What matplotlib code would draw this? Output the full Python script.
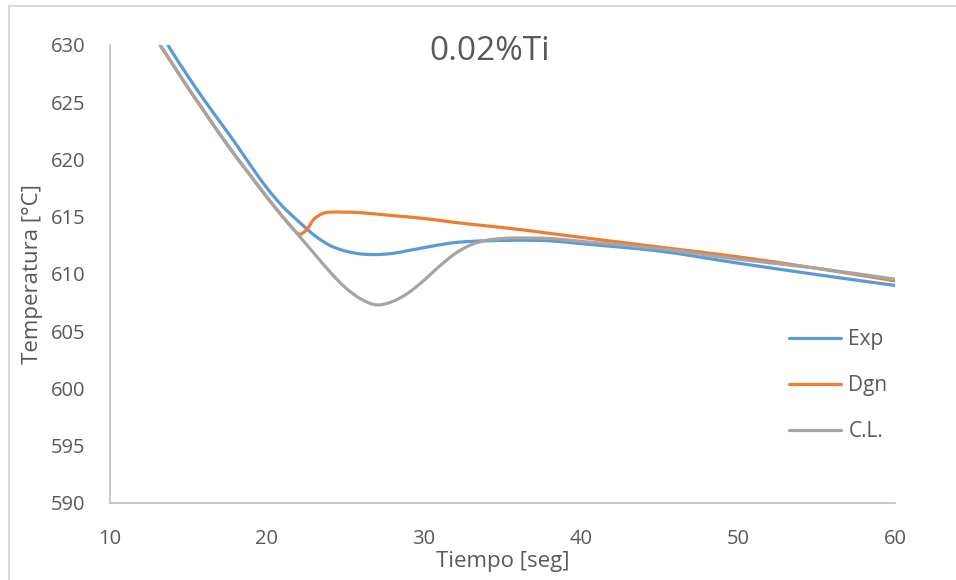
import matplotlib
matplotlib.use("Agg")
import numpy as np
import matplotlib.pyplot as plt
from matplotlib.lines import Line2D
from matplotlib.path import Path
from matplotlib.patches import PathPatch

plt.rcParams['font.family'] = ['Open Sans', 'DejaVu Sans']

# Cooling curves, time in seconds, temperature in °C
t_exp = [13.7, 14, 15, 16, 17, 18, 19, 20, 21, 22, 23, 24, 25, 26, 27, 28, 29, 30,
         31, 32, 33, 34, 36, 38, 40, 45, 50, 55, 60]
temp_exp = [630.0, 629.3, 627.2, 625.2, 623.3, 621.4, 619.4, 617.5, 615.9, 614.6, 613.4,
            612.5, 612.0, 611.75, 611.7, 611.8, 612.05, 612.3, 612.55, 612.75, 612.85,
            612.9, 612.95, 612.9, 612.65, 612.0, 610.95, 609.95, 609.0]

t_dgn = [13, 14, 15, 16, 17, 18, 19, 20, 21, 21.5, 22.0, 22.3, 22.6, 23.0, 23.5, 24, 25,
         26, 28, 30, 32, 34, 36, 38, 40, 45, 50, 55, 60]
temp_dgn = [630.4, 628.3, 626.2, 624.2, 622.2, 620.3, 618.5, 616.7, 615.0, 614.2, 613.5,
            613.6, 614.0, 614.8, 615.25, 615.4, 615.4, 615.35, 615.1, 614.85, 614.5,
            614.2, 613.9, 613.55, 613.2, 612.35, 611.5, 610.5, 609.4]

t_cl = [13, 14, 15, 16, 17, 18, 19, 20, 21, 22, 23, 24, 25, 26, 27, 28, 29, 30, 31, 32,
        33, 34, 35, 36, 38, 40, 45, 50, 55, 60]
temp_cl = [630.4, 628.3, 626.2, 624.2, 622.2, 620.3, 618.5, 616.7, 615.0, 613.4, 611.8,
           610.2, 608.8, 607.8, 607.3, 607.6, 608.35, 609.45, 610.7, 611.8, 612.55, 612.95,
           613.1, 613.15, 613.1, 612.85, 612.2, 611.3, 610.5, 609.55]

series_names = ["Exp", "Dgn", "C.L."]
x_ticks = [10, 20, 30, 40, 50, 60]
y_ticks = [590, 595, 600, 605, 610, 615, 620, 625, 630]

colors = ["#5B9BD5", "#ED7D31", "#A5A5A5"]
text_color = "#595959"
lw = 2.3


def smooth_path(xs, ys):
    """Cubic Bezier path through the points (Catmull-Rom style smoothed line)."""
    p = np.column_stack([xs, ys]).astype(float)
    verts = [p[0]]
    codes = [Path.MOVETO]
    n = len(p)
    for i in range(n - 1):
        p0 = p[i - 1] if i > 0 else p[i]
        p1, p2 = p[i], p[i + 1]
        p3 = p[i + 2] if i + 2 < n else p[i + 1]
        c1 = p1 + (p2 - p0) / 6.0
        c2 = p2 - (p3 - p1) / 6.0
        verts += [c1, c2, p2]
        codes += [Path.CURVE4] * 3
    return Path(verts, codes)


fig = plt.figure(figsize=(9.56, 5.8), dpi=100)
ax = fig.add_axes([110 / 956, 1 - 503 / 580, (895 - 110) / 956, (503 - 45) / 580])

for (tx, ty), c in zip([(t_exp, temp_exp), (t_dgn, temp_dgn), (t_cl, temp_cl)], colors):
    patch = PathPatch(smooth_path(tx, ty), facecolor='none', edgecolor=c, lw=lw,
                      capstyle='round', joinstyle='round')
    ax.add_patch(patch)

ax.set_xlim(10, 60)
ax.set_ylim(590, 630)
ax.set_xticks(x_ticks)
ax.set_yticks(y_ticks)
ax.tick_params(axis='both', length=0, labelsize=14.5, colors=text_color)
ax.tick_params(axis='x', pad=19)
ax.tick_params(axis='y', pad=18)
for s in ['top', 'right']:
    ax.spines[s].set_visible(False)
for s in ['left', 'bottom']:
    ax.spines[s].set_color('#BFBFBF')
    ax.spines[s].set_linewidth(1.2)

ax.set_xlabel("Tiempo [seg]", fontsize=16, color=text_color, labelpad=1)
ax.set_ylabel("Temperatura [°C]", fontsize=16, color=text_color, labelpad=5)
fig.text(490 / 956, 1 - 52 / 580, "0.02%Ti", fontsize=24, color=text_color,
         ha='center', va='center')

handles = [Line2D([0], [0], color=c, lw=lw, solid_capstyle='round') for c in colors]
leg = ax.legend(handles, series_names, loc='upper left',
                bbox_to_anchor=((789 - 110) / 785, (503 - 329) / 458),
                frameon=False, fontsize=15, handlelength=2.5, handletextpad=0.35,
                labelspacing=1.2, borderaxespad=0, borderpad=0)
for txt in leg.get_texts():
    txt.set_color(text_color)

# chart-area outline
fig.add_artist(plt.Line2D([8.5 / 956, 8.5 / 956], [0, 1 - 5.5 / 580],
                          transform=fig.transFigure, color='#D9D9D9', lw=1.5))
fig.add_artist(plt.Line2D([8.5 / 956, 1], [1 - 5.5 / 580, 1 - 5.5 / 580],
                          transform=fig.transFigure, color='#D9D9D9', lw=1.5))

fig.savefig("out.png", dpi=100)
